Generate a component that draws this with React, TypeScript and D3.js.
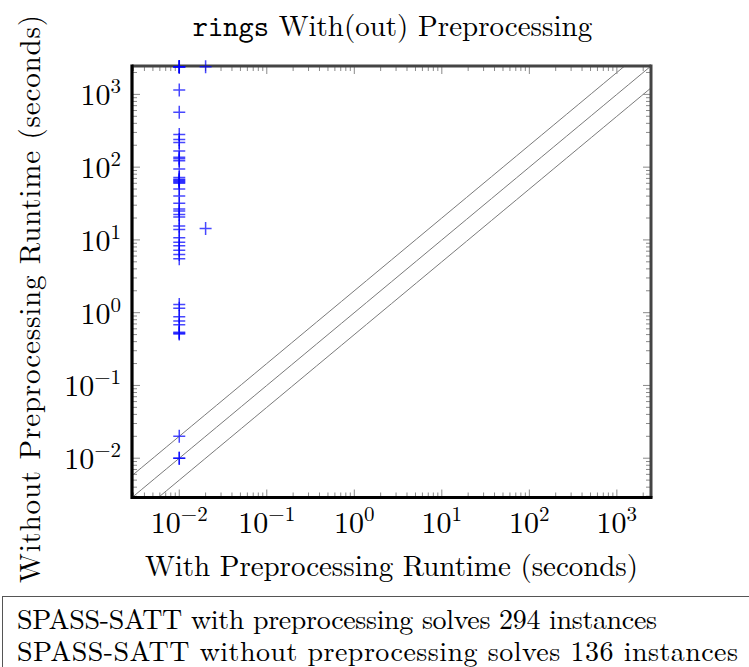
import React from "react";
import * as d3 from "d3";

// ---- data (seconds) ----
const withPreRuntime: number[] = [
  0.01, 0.01, 0.01, 0.01, 0.01, 0.01, 0.01, 0.01, 0.01, 0.01,
  0.01, 0.01, 0.01, 0.01, 0.01, 0.01, 0.01, 0.01, 0.01, 0.01,
  0.01, 0.01, 0.01, 0.01, 0.01, 0.01, 0.01, 0.01, 0.01, 0.01,
  0.01, 0.01, 0.01, 0.01, 0.01, 0.01, 0.01, 0.01, 0.01, 0.01,
  0.01, 0.01, 0.01, 0.01, 0.01, 0.01,
  0.02, 0.02,
];
const withoutPreRuntime: number[] = [
  2400, 2400, 2400, 2400, 1150, 570, 281, 240, 218, 167,
  137, 130, 122, 94, 72, 68, 66, 64, 62, 60,
  50, 40, 32, 26.5, 24.9, 22.4, 20.6, 15.5, 13.9, 10.7,
  9.3, 8.3, 7.2, 6.3, 5.5, 1.3, 1.15, 0.88, 0.77, 0.68,
  0.54, 0.52, 0.51, 0.02, 0.01, 0.01,
  2400, 14.4,
];
const decadeExponents: number[] = [-2, -1, 0, 1, 2, 3];
const diagonalFactors: number[] = [2, 1, 0.5];
const legendLines: string[] = [
  "SPASS-SATT with preprocessing solves 294 instances",
  "SPASS-SATT without preprocessing solves 136 instances",
];
const DOMAIN: [number, number] = [Math.pow(10, -2.54), Math.pow(10, 3.39)];

const SERIF = "Latin Modern Roman, Liberation Serif, serif";
const MONO = "Latin Modern Mono, Liberation Mono, monospace";

const L = 132, R = 651, T = 66, B = 497.5;

export default function App() {
  const x = d3.scaleLog().domain(DOMAIN).range([L, R]);
  const y = d3.scaleLog().domain(DOMAIN).range([B, T]);

  const minor: number[] = [];
  for (let k = -3; k <= 3; k++) {
    for (let m = 2; m <= 9; m++) {
      const v = m * Math.pow(10, k);
      if (v > DOMAIN[0] && v < DOMAIN[1]) minor.push(v);
    }
  }
  const majors = decadeExponents.map((e) => Math.pow(10, e));
  const tickColor = "#8a8a8a";
  const MAJ = 8, MIN = 5;

  const diagPts = (f: number) => {
    const pts: [number, number][] = [];
    const n = 50;
    for (let i = 0; i <= n; i++) {
      const lv = Math.log10(DOMAIN[0] / 4) + (i / n) * (Math.log10(DOMAIN[1] * 4) - Math.log10(DOMAIN[0] / 4));
      const v = Math.pow(10, lv);
      pts.push([x(v), y(v * f)]);
    }
    return pts;
  };
  const line = d3.line();

  return (
    <svg
      width={749}
      height={667}
      style={{ position: "absolute", left: 0, top: 0, background: "#fff" }}
    >
      <defs>
        <clipPath id="plotclip">
          <rect x={L} y={T} width={R - L} height={B - T} />
        </clipPath>
      </defs>
      <rect x={0} y={0} width={749} height={667} fill="#fff" />

      {/* title */}
      <text x={392.5} y={36} textAnchor="middle" fontSize={29} fontFamily={SERIF} fill="#000">
        <tspan fontFamily={MONO} fontSize={29}>rings</tspan>
        <tspan fontFamily={SERIF}> With(out) Preprocessing</tspan>
      </text>

      {/* diagonals */}
      <g clipPath="url(#plotclip)">
        {diagonalFactors.map((f) => (
          <path key={f} d={line(diagPts(f)) || ""} fill="none" stroke="#7a7a7a" strokeWidth={1} />
        ))}
      </g>

      {/* ticks */}
      <g stroke={tickColor} strokeWidth={1}>
        {majors.map((v) => (
          <g key={"mx" + v}>
            <line x1={x(v)} x2={x(v)} y1={B} y2={B - MAJ} />
            <line x1={x(v)} x2={x(v)} y1={T} y2={T + MAJ} />
            <line x1={L} x2={L + MAJ} y1={y(v)} y2={y(v)} />
            <line x1={R} x2={R - MAJ} y1={y(v)} y2={y(v)} />
          </g>
        ))}
        {minor.map((v) => (
          <g key={"mn" + v}>
            <line x1={x(v)} x2={x(v)} y1={B} y2={B - MIN} />
            <line x1={x(v)} x2={x(v)} y1={T} y2={T + MIN} />
            <line x1={L} x2={L + MIN} y1={y(v)} y2={y(v)} />
            <line x1={R} x2={R - MIN} y1={y(v)} y2={y(v)} />
          </g>
        ))}
      </g>

      {/* axis box */}
      <line x1={L} x2={R} y1={T} y2={T} stroke="#444" strokeWidth={3} />
      <line x1={R} x2={R} y1={T - 1.5} y2={B} stroke="#444" strokeWidth={3} />
      <line x1={L} x2={L} y1={T - 1.5} y2={B + 1.5} stroke="#000" strokeWidth={3.2} />
      <line x1={L} x2={R + 1.5} y1={B} y2={B} stroke="#000" strokeWidth={3.2} />

      {/* x tick labels */}
      {decadeExponents.map((e) => (
        <text key={"xl" + e} x={x(Math.pow(10, e))} y={533} textAnchor="middle" fontFamily={SERIF} fontSize={30} fill="#000">
          <tspan>10</tspan>
          <tspan dy={-12} fontSize={21}>{e < 0 ? "\u2212" + Math.abs(e) : String(e)}</tspan>
        </text>
      ))}

      {/* y tick labels */}
      {decadeExponents.map((e) => (
        <text key={"yl" + e} x={121} y={y(Math.pow(10, e)) + 11} textAnchor="end" fontFamily={SERIF} fontSize={30} fill="#000">
          <tspan>10</tspan>
          <tspan dy={-12} fontSize={21}>{e < 0 ? "\u2212" + Math.abs(e) : String(e)}</tspan>
        </text>
      ))}

      {/* axis labels */}
      <text x={391.5} y={576} textAnchor="middle" fontFamily={SERIF} fontSize={29} fill="#000" textLength={493} lengthAdjust="spacing">
        With Preprocessing Runtime (seconds)
      </text>
      <text
        transform={`translate(40,299) rotate(-90)`}
        textAnchor="middle"
        fontFamily={SERIF}
        fontSize={29}
        fill="#000"
        textLength={568}
        lengthAdjust="spacing"
      >
        Without Preprocessing Runtime (seconds)
      </text>

      {/* markers */}
      <g stroke="#0000ff" strokeWidth={1.5} strokeOpacity={0.72} fill="none">
        {withPreRuntime.map((xv, i) => {
          const px = x(xv), py = y(withoutPreRuntime[i]);
          return (
            <path key={i} d={`M${px - 6},${py}H${px + 6}M${px},${py - 6.5}V${py + 6.5}`} />
          );
        })}
      </g>

      {/* legend box */}
      <rect x={2.5} y={596.5} width={800} height={120} fill="none" stroke="#555" strokeWidth={1} />
      {legendLines.map((s, i) => (
        <text key={s} x={17} y={629 + i * 32} fontFamily={SERIF} fontSize={28} fill="#000"
          textLength={i === 0 ? 640 : 721} lengthAdjust="spacing">
          {s}
        </text>
      ))}
    </svg>
  );
}
